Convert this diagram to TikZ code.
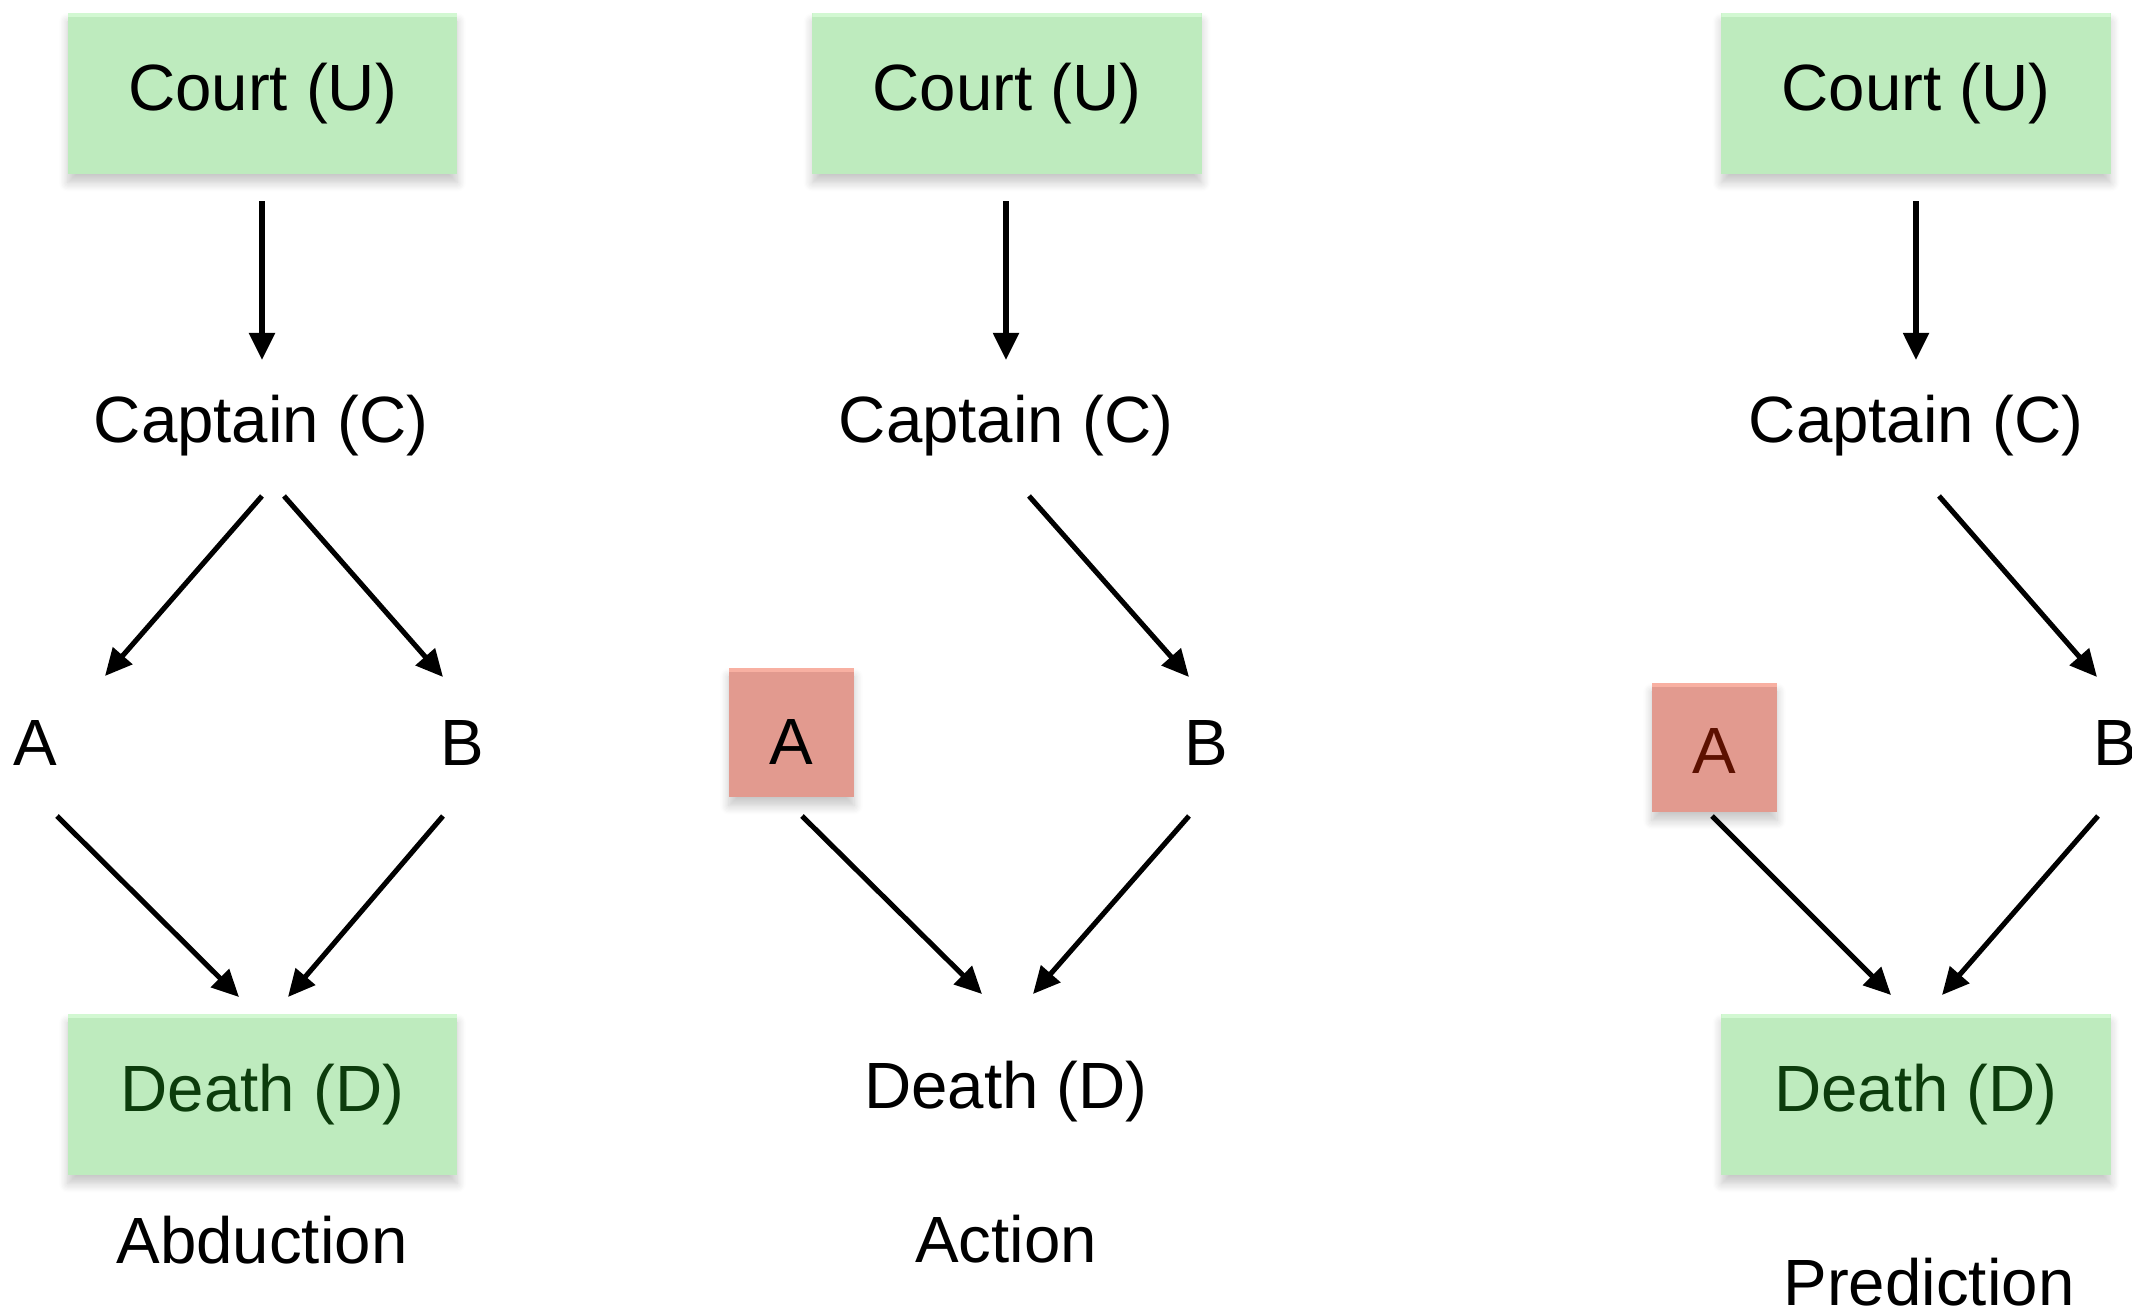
\documentclass[tikz,border=0pt]{standalone}
\usepackage{fontspec}
\setmainfont{Liberation Sans}
\usetikzlibrary{arrows.meta,shadows.blur}

\definecolor{boxgreen}{RGB}{190,235,190}
\definecolor{boxgreentop}{RGB}{210,248,210}
\definecolor{boxred}{RGB}{226,154,143}
\definecolor{boxredtop}{RGB}{248,176,162}
\definecolor{deathgreen}{RGB}{12,60,12}
\definecolor{darkred}{RGB}{92,16,0}

\tikzset{
  every node/.style={inner sep=0pt, font=\fontsize{18.6}{22}\selectfont},
  lbl/.style={anchor=base},
  softshadow/.style={blur shadow={shadow xshift=0pt, shadow yshift=-2.5pt,
      shadow blur steps=8, shadow blur radius=2.5pt, shadow opacity=22}},
  greenbox/.style={fill=boxgreen, minimum width=3.89cm, minimum height=1.61cm, softshadow,
      path picture={\fill[boxgreentop] (path picture bounding box.north west)
        rectangle ([yshift=-1.2pt]path picture bounding box.north east);}},
  redbox/.style={fill=boxred, minimum width=1.25cm, minimum height=1.29cm,
      text depth=0pt, softshadow,
      path picture={\fill[boxredtop] (path picture bounding box.north west)
        rectangle ([yshift=-1.2pt]path picture bounding box.north east);}},
  arr/.style={line width=1.45pt, -{Triangle[length=0.27cm, width=0.25cm]}},
}

\begin{document}
\begin{tikzpicture}[x=0.01cm, y=-0.01cm]
\useasboundingbox (0,0) rectangle (2132,1309);
\clip (0,0) rectangle (2132,1309);

% ---------- Abduction ----------
\node[greenbox] (courtL) at (262.5,93.5) {Court (U)};
\node[lbl] (capL) at (261,442) {Captain (C)};
\node[lbl] (aL) at (35,765) {A};
\node[lbl] (bL) at (462,765) {B};
\node[greenbox, text=deathgreen] (deathL) at (262.5,1094.5) {Death (D)};
\node[lbl] (labL) at (262,1263) {Abduction};

\draw[arr] ([shift={(-0.5,107.5)}]courtL.center) -- ([shift={(1,-82)}]capL.base);
\draw[arr] ([shift={(1,54)}]capL.base) -- ([shift={(70,-89)}]aL.base);
\draw[arr] ([shift={(23,54)}]capL.base) -- ([shift={(-19,-88)}]bL.base);
\draw[arr] ([shift={(22,51)}]aL.base) -- ([shift={(-23.5,-97.5)}]deathL.center);
\draw[arr] ([shift={(-19,51)}]bL.base) -- ([shift={(25.5,-97.5)}]deathL.center);

% ---------- Action ----------
\node[greenbox] (courtM) at (1007,93.5) {Court (U)};
\node[lbl] (capM) at (1006,442) {Captain (C)};
\node[redbox, text height=0.63cm] (aM) at (791.5,732.5) {A};
\node[lbl] (bM) at (1206,765) {B};
\node[lbl] (deathM) at (1006,1108) {Death (D)};
\node[lbl] (labM) at (1006,1262) {Action};

\draw[arr] ([shift={(-1,107.5)}]courtM.center) -- ([shift={(0,-82)}]capM.base);
\draw[arr] ([shift={(23,54)}]capM.base) -- ([shift={(-17,-88)}]bM.base);
\draw[arr] ([shift={(10.5,83.5)}]aM.center) -- ([shift={(-24,-114)}]deathM.base);
\draw[arr] ([shift={(-17,51)}]bM.base) -- ([shift={(27,-114)}]deathM.base);

% ---------- Prediction ----------
\node[greenbox] (courtR) at (1916,93.5) {Court (U)};
\node[lbl] (capR) at (1916,442) {Captain (C)};
\node[redbox, text height=0.51cm, text=darkred] (aR) at (1714.5,747.5) {A};
\node[anchor=base west] (bR) at (2093,765) {B};
\node[greenbox, text=deathgreen] (deathR) at (1916,1094.5) {Death (D)};
\node[lbl] (labR) at (1929,1305) {Prediction};

\draw[arr] ([shift={(0,107.5)}]courtR.center) -- ([shift={(0,-82)}]capR.base);
\draw[arr] ([shift={(23,54)}]capR.base) -- ([shift={(4,-88)}]bR.base west);
\draw[arr] ([shift={(-2.5,68.5)}]aR.center) -- ([shift={(-25,-99.5)}]deathR.center);
\draw[arr] ([shift={(5,51)}]bR.base west) -- ([shift={(26,-99.5)}]deathR.center);
\end{tikzpicture}
\end{document}
